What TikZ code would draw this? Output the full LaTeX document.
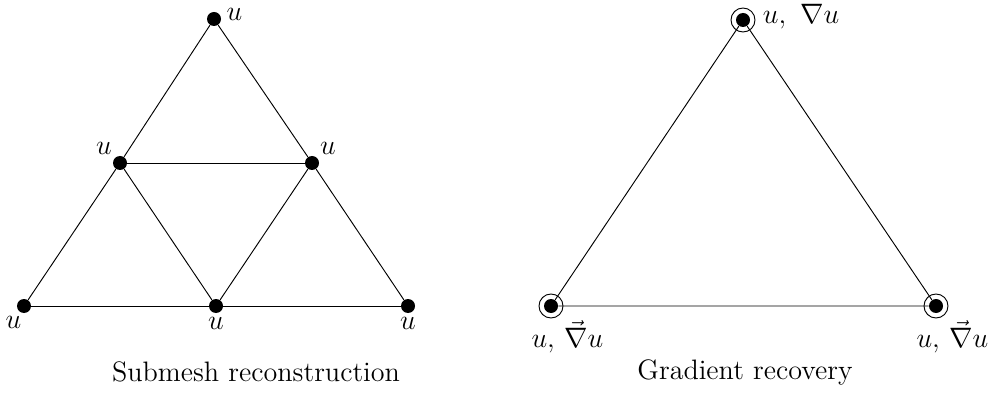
\documentclass[tikz,border=0pt]{standalone}
\usepackage{amsmath}
\begin{document}
\begin{tikzpicture}[x=0.015cm, y=-0.015cm,
      every node/.append style={font=\large},
      dot/.style={circle, fill=black, minimum size=2.1mm, inner sep=0pt},
      ring/.style={circle, draw=black, minimum size=3.6mm, inner sep=0pt},
      edge/.style={black, thin}]
    \useasboundingbox (0,0) rectangle (989,402);

    % ---------------- submesh reconstruction ----------------
    \node[dot] (a) at (24,306)  {};
    \node[dot] (b) at (408,306) {};
    \node[dot] (c) at (214,19)  {};
    \node[dot] (d) at (120,163) {};
    \node[dot] (e) at (312,163) {};
    \node[dot] (f) at (216,306) {};
    \foreach \p/\q in {a/f, f/b, a/d, d/c, c/e, e/b, d/e, d/f, f/e}
      \draw[edge] (\p) -- (\q);

    \node[anchor=west, inner sep=1pt] at ([xshift=1pt, yshift=2pt]c.east) {$u$};
    \node[anchor=south east, inner sep=1pt] at (d.north west) {$u$};
    \node[anchor=south west, inner sep=1pt] at (e.north east) {$u$};
    \node[anchor=north east, inner sep=1pt] at (a.south) {$u$};
    \node[anchor=north, inner sep=1.5pt] at (f.south) {$u$};
    \node[anchor=north, inner sep=1.5pt] at (b.south) {$u$};

    \node (sub) at (256,372) {Submesh reconstruction};

    % ---------------- gradient recovery ----------------
    \node[dot] (p) at (551,306) {};
    \node[dot] (q) at (936,306) {};
    \node[dot] (r) at (743,20)  {};
    \foreach \v in {p, q, r}
      \node[ring] (\v-ring) at (\v) {};
    \draw[edge] (p) -- (q) -- (r) -- (p);

    \node[anchor=west, inner sep=0pt] at ([xshift=3pt, yshift=1.5pt]r-ring.east) {$u,\ \nabla u$};
    \node[anchor=north, inner sep=0pt] at ([xshift=7pt, yshift=-0.5pt]p-ring.south) {$u,\,\vec{\nabla} u$};
    \node[anchor=north, inner sep=0pt] at ([xshift=7pt, yshift=-0.5pt]q-ring.south) {$u,\,\vec{\nabla} u$};

    \node (grad) at (745,372) {Gradient recovery};
  \end{tikzpicture}
\end{document}
